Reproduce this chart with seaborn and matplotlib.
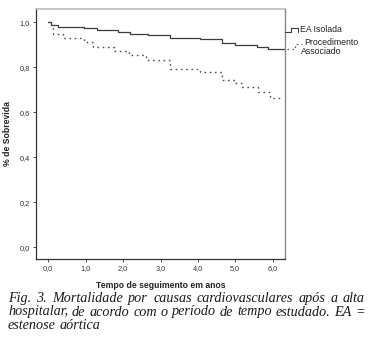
import matplotlib
matplotlib.use("Agg")
import matplotlib.pyplot as plt
import seaborn as sns
import pandas as pd

# ---- data (Kaplan-Meier step curves) ----
t_isolada = [0.0, 0.08, 0.25, 0.95, 1.30, 1.85, 2.18, 2.67, 3.25, 4.06, 4.64, 4.99, 5.57, 5.87, 6.33]
s_isolada = [1.0, 0.99, 0.98, 0.973, 0.966, 0.958, 0.950, 0.944, 0.929, 0.926, 0.909, 0.899, 0.892, 0.880, 0.880]

t_assoc = [0.0, 0.08, 0.13, 0.40, 0.95, 1.20, 1.75, 2.15, 2.60, 3.25, 4.06, 4.64, 4.99, 5.17, 5.60, 5.93, 6.26]
s_assoc = [1.0, 0.99, 0.947, 0.929, 0.914, 0.892, 0.872, 0.855, 0.832, 0.791, 0.780, 0.744, 0.732, 0.711, 0.689, 0.665, 0.665]

x_ticks = [0, 1, 2, 3, 4, 5, 6]
x_ticklabels = ["0,0", "1,0", "2,0", "3,0", "4,0", "5,0", "6,0"]
y_ticks = [0.0, 0.2, 0.4, 0.6, 0.8, 1.0]
y_ticklabels = ["0,0", "0,2", "0,4", "0,6", "0,8", "1,0"]

series_names = ["EA Isolada", "Procedimento\nAssociado"]
x_label = "Tempo de seguimento em anos"
y_label = "% de Sobrevida"
caption_lines = [
    "Fig. 3. Mortalidade por causas cardiovasculares após a alta",
    "hospitalar, de acordo com o período de tempo estudado. EA =",
    "estenose aórtica",
]

sns.set_theme(style="white")
plt.rcParams["font.family"] = ["Liberation Sans", "DejaVu Sans"]

W, H = 373, 345
fig = plt.figure(figsize=(W / 100, H / 100), dpi=100)
ax = fig.add_axes([36 / W, 1 - 259 / H, (285 - 36) / W, (259 - 9) / H])

df1 = pd.DataFrame({"t": t_isolada, "s": s_isolada})
df2 = pd.DataFrame({"t": t_assoc, "s": s_assoc})
line_col = "#3c3c3c"
sns.lineplot(data=df1, x="t", y="s", ax=ax, estimator=None, sort=False,
             drawstyle="steps-post", color=line_col, linewidth=0.9)
sns.lineplot(data=df2, x="t", y="s", ax=ax, estimator=None, sort=False,
             drawstyle="steps-post", color="#505050", linewidth=1.0,
             linestyle=(0, (1.2, 2.6)))

ax.set_xlim(-0.33, 6.33)
ax.set_ylim(-0.052, 1.059)
ax.set_xticks(x_ticks)
ax.set_xticklabels(x_ticklabels)
ax.set_yticks(y_ticks)
ax.set_yticklabels(y_ticklabels)
ax.tick_params(axis="both", which="both", direction="out", length=2.5, width=0.6,
               labelsize=5.3, colors="#333333", pad=2,
               left=True, bottom=True, right=False, top=False)
ax.set_xlabel(x_label, fontsize=6.2, fontweight="bold", color="#222222")
ax.set_ylabel(y_label, fontsize=6.2, fontweight="bold", color="#222222")
ax.xaxis.set_label_coords(0.5, -0.09)
ax.yaxis.set_label_coords(-0.095, 0.5)

for side in ["left", "bottom"]:
    ax.spines[side].set_color("#333333")
    ax.spines[side].set_linewidth(0.9)
ax.spines["right"].set_color("#888888")
ax.spines["right"].set_linewidth(1.0)
ax.spines["top"].set_color("#bbbbbb")
ax.spines["top"].set_linewidth(1.2)
ax.grid(False)

# ---- legend (outside, right) ----
def fx(px):
    return px / W

def fy(py):
    return 1 - py / H

# solid step glyph
fig.add_artist(plt.Line2D([fx(285), fx(291), fx(291), fx(298), fx(298)],
                          [fy(32), fy(32), fy(28), fy(28), fy(32)],
                          color=line_col, linewidth=0.8))
fig.text(fx(300), fy(31.5), series_names[0], fontsize=6.3, color="#222222",
         va="baseline", ha="left")
# dotted step glyph
fig.add_artist(plt.Line2D([fx(287), fx(295), fx(295), fx(302)],
                          [fy(49), fy(49), fy(44), fy(44)],
                          color="#505050", linewidth=0.9, linestyle=(0, (1.2, 2.6))))
fig.text(fx(304), fy(45), series_names[1].split("\n")[0], fontsize=6.3, color="#222222",
         va="baseline", ha="left")
fig.text(fx(301), fy(54), series_names[1].split("\n")[1], fontsize=6.3, color="#222222",
         va="baseline", ha="left")

# ---- caption (justified) ----
cap_font = dict(family=["Liberation Serif", "DejaVu Serif"], style="italic",
                size=10.2, color="#1a1a1a")
fig.canvas.draw()
renderer = fig.canvas.get_renderer()
x0, x1 = 8, 365
baselines = [302, 315.5, 329]
for i, line in enumerate(caption_lines):
    words = line.split(" ")
    texts = [fig.text(0, fy(baselines[i]), w, va="baseline", ha="left", **cap_font)
             for w in words]
    widths = [t.get_window_extent(renderer).width for t in texts]
    if i < len(caption_lines) - 1 and len(words) > 1:
        gap = (x1 - x0 - sum(widths)) / (len(words) - 1)
    else:
        sp = fig.text(0, 0, "a a", **cap_font)
        sp2 = fig.text(0, 0, "aa", **cap_font)
        gap = sp.get_window_extent(renderer).width - sp2.get_window_extent(renderer).width
        sp.remove()
        sp2.remove()
    x = x0
    for t, w in zip(texts, widths):
        t.set_x(fx(x))
        x += w + gap

fig.savefig("out.png", dpi=100)
